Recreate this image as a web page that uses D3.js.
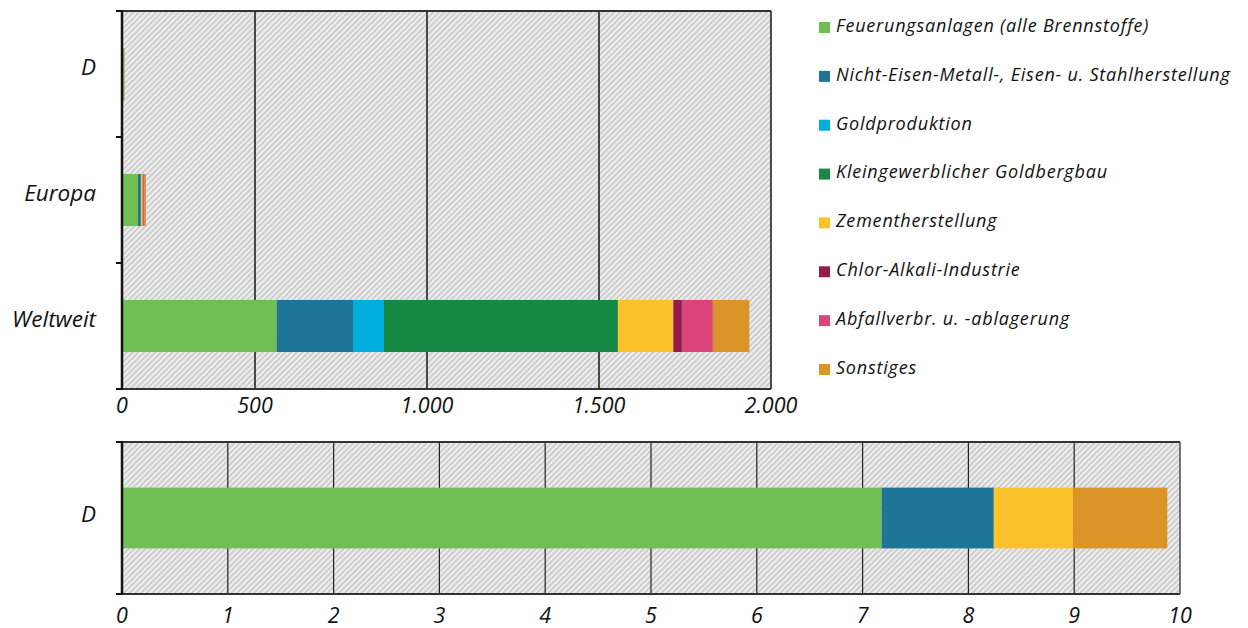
<!DOCTYPE html>
<html>
<head>
<meta charset="utf-8">
<script src="https://cdn.jsdelivr.net/npm/d3@7"></script>
<style>
  body { margin: 0; background: #fff; }
  text { font-family: "Open Sans", sans-serif; font-style: italic; fill: #111; }
</style>
</head>
<body>
<script>
// data
const sources = [
  "Feuerungsanlagen (alle Brennstoffe)",
  "Nicht-Eisen-Metall-, Eisen- u. Stahlherstellung",
  "Goldproduktion",
  "Kleingewerblicher Goldbergbau",
  "Zementherstellung",
  "Chlor-Alkali-Industrie",
  "Abfallverbr. u. -ablagerung",
  "Sonstiges"
]
const colors = ["#70bf54", "#1f7597", "#00aedd", "#168a45", "#fbc22b", "#951b4f", "#dc4479", "#da9427"]

const regions = ["D", "Europa", "Weltweit"]
const valuesD = [7.18, 1.06, 0, 0, 0.75, 0, 0, 0.89]
const valuesEuropa = [60, 11, 0, 0, 7, 3, 4, 5]
const valuesWeltweit = [563, 222, 90, 680, 161, 25, 90, 106]

const topTicks = [0, 500, 1000, 1500, 2000]
const bottomTicks = [0, 1, 2, 3, 4, 5, 6, 7, 8, 9, 10]

const deFormat = d3.formatLocale({decimal: ",", thousands: ".", grouping: [3], currency: ["", " €"]}).format(",")

function toRow(name, vals) {
  const row = {region: name}
  sources.forEach((s, i) => row[s] = vals[i])
  return row
}
const topData = [toRow("D", valuesD), toRow("Europa", valuesEuropa), toRow("Weltweit", valuesWeltweit)]
const bottomData = [toRow("D", valuesD)]

const width = 1248, height = 628

const svg = d3.select("body").append("svg")
  .attr("width", width)
  .attr("height", height)

// hatch pattern
const defs = svg.append("defs")
const pat = defs.append("pattern")
  .attr("id", "hatch")
  .attr("patternUnits", "userSpaceOnUse")
  .attr("width", 4)
  .attr("height", 4)
  .attr("patternTransform", "rotate(45)")
pat.append("rect").attr("width", 4).attr("height", 4).attr("fill", "#cdcdcd")
pat.append("line").attr("x1", 1).attr("x2", 1).attr("y1", 0).attr("y2", 4)
  .attr("stroke", "#f4f4f4").attr("stroke-width", 1.7)

const colorScale = d3.scaleOrdinal().domain(sources).range(colors)
const stack = d3.stack().keys(sources)

function drawPanel(opts) {
  const {data, cats, x, top, bottom, gridWidth, labelY, labelDy} = opts
  const left = x.range()[0], right = x.range()[x.range().length - 1]

  const y = d3.scaleBand()
    .domain(cats)
    .range([top, bottom])
    .paddingInner(opts.pad)
    .paddingOuter(opts.pad / 2)

  const g = svg.append("g")

  // background
  g.append("rect")
    .attr("x", left).attr("y", top)
    .attr("width", right - left).attr("height", bottom - top)
    .attr("fill", "url(#hatch)")

  // grid
  g.selectAll(".grid")
    .data(opts.ticks.slice(1))
    .join("line")
    .attr("x1", d => x(d)).attr("x2", d => x(d))
    .attr("y1", top).attr("y2", bottom)
    .attr("stroke", "#222")
    .attr("stroke-width", gridWidth)

  // frame top / bottom
  g.append("line").attr("x1", left).attr("x2", right).attr("y1", top).attr("y2", top)
    .attr("stroke", "#333").attr("stroke-width", 2)
  g.append("line").attr("x1", left).attr("x2", right).attr("y1", bottom).attr("y2", bottom)
    .attr("stroke", "#333").attr("stroke-width", 2)

  // bars
  const series = stack(data)
  g.selectAll(".serie")
    .data(series)
    .join("g")
    .attr("fill", d => colorScale(d.key))
    .selectAll("rect")
    .data(d => d)
    .join("rect")
    .attr("x", d => x(d[0]))
    .attr("width", d => Math.max(0, x(d[1]) - x(d[0])))
    .attr("y", d => y(d.data.region))
    .attr("height", y.bandwidth())

  // left axis
  g.append("line").attr("x1", left).attr("x2", left).attr("y1", top - 1).attr("y2", bottom + 1)
    .attr("stroke", "#111").attr("stroke-width", 2.5)
  const tickYs = [top].concat(cats.map(c => y(c) + y.bandwidth() / 2 + y.step() / 2))
  g.selectAll(".ytick")
    .data(tickYs)
    .join("line")
    .attr("x1", left - 6).attr("x2", left)
    .attr("y1", d => d).attr("y2", d => d)
    .attr("stroke", "#111").attr("stroke-width", 2)

  // category labels
  g.selectAll(".cat")
    .data(cats)
    .join("text")
    .attr("x", 96)
    .attr("y", d => y(d) + y.bandwidth() / 2 + labelDy)
    .attr("text-anchor", "end")
    .attr("dominant-baseline", "middle")
    .style("font-size", "22.5px")
    .text(d => d)

  // x labels
  g.selectAll(".xlab")
    .data(opts.ticks)
    .join("text")
    .attr("x", d => x(d))
    .attr("y", labelY)
    .attr("text-anchor", "middle")
    .attr("dominant-baseline", "middle")
    .style("font-size", "21.5px")
    .text(d => deFormat(d))
}

// top panel: axis as drawn in the original (0-500 narrower than the other steps)
const xTop = d3.scaleLinear().domain([0, 500, 2000]).range([122, 255, 771])
drawPanel({
  data: topData, cats: regions, x: xTop, top: 11, bottom: 389,
  pad: 0.587, ticks: topTicks, gridWidth: 1.6, labelY: 407, labelDy: -5
})

const xBottom = d3.scaleLinear().domain([0, 10]).range([122, 1180])
drawPanel({
  data: bottomData, cats: ["D"], x: xBottom, top: 442, bottom: 594,
  pad: 0.6, ticks: bottomTicks, gridWidth: 1.2, labelY: 617, labelDy: -2
})

// legend
const legend = svg.append("g")
const legendY = d3.scalePoint().domain(sources).range([27, 369])
legend.selectAll("rect")
  .data(sources)
  .join("rect")
  .attr("x", 819)
  .attr("y", d => legendY(d) - 5)
  .attr("width", 11)
  .attr("height", 11)
  .attr("fill", d => colorScale(d))
legend.selectAll("text")
  .data(sources)
  .join("text")
  .attr("x", 836)
  .attr("y", d => legendY(d))
  .attr("dominant-baseline", "middle")
  .style("font-size", "18px")
  .style("letter-spacing", "0.8px")
  .text(d => d)
</script>
</body>
</html>
